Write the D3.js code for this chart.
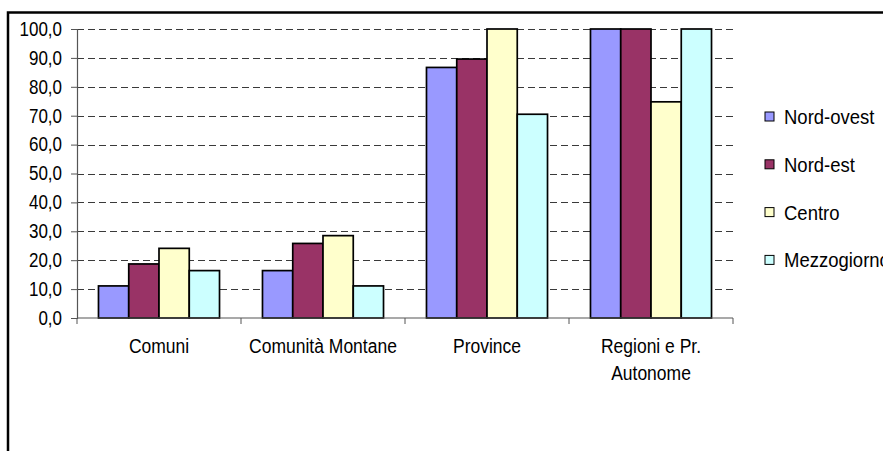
<!DOCTYPE html>
<html>
<head>
<meta charset="utf-8">
<script src="https://cdn.jsdelivr.net/npm/d3@7"></script>
<style>
  html, body { margin: 0; padding: 0; background: #fff; }
  svg { display: block; }
  text { font-family: Arial, "Liberation Sans", sans-serif; fill: #000; }
</style>
</head>
<body>
<svg id="chart" width="883" height="451"></svg>
<script>
// Categories of local administration and the share for each macro-area
const categories = ["Comuni", "Comunità Montane", "Province", "Regioni e Pr. Autonome"];
const categoryLines = [["Comuni"], ["Comunità Montane"], ["Province"], ["Regioni e Pr.", "Autonome"]];
const seriesNames = ["Nord-ovest", "Nord-est", "Centro", "Mezzogiorno"];
const nordOvest   = [11.1, 16.4, 86.7, 100.0];
const nordEst     = [18.7, 25.8, 89.6, 100.0];
const centro      = [24.1, 28.5, 100.0, 74.8];
const mezzogiorno = [16.4, 11.1, 70.5, 100.0];
const yTicks = [0, 10, 20, 30, 40, 50, 60, 70, 80, 90, 100];
const colors = ["#9999FF", "#993366", "#FFFFCC", "#CCFFFF"];

const seriesValues = [nordOvest, nordEst, centro, mezzogiorno];
const rows = categories.map((c, i) => ({
  category: c,
  values: seriesNames.map((s, j) => ({ series: s, value: seriesValues[j][i] }))
}));

const svg = d3.select("#chart");
const FS = 17, FS_CAT = 17.5, FS_LEG = 18.5, SY = 1.14;   // font sizes and vertical text stretch

// outer frame
svg.append("rect")
  .attr("x", 8).attr("y", 12.5).attr("width", 900).attr("height", 460)
  .attr("fill", "none").attr("stroke", "#000").attr("stroke-width", 2.5);

const plot = { left: 77, right: 733, top: 29, bottom: 318 };

const x0 = d3.scaleBand().domain(categories).range([plot.left, plot.right]).paddingInner(0).paddingOuter(0);
const x1 = d3.scaleBand().domain(seriesNames).range([0, x0.bandwidth()]).paddingInner(0).paddingOuter(0.71);
const y = d3.scaleLinear().domain([0, 100]).range([plot.bottom, plot.top]);
const color = d3.scaleOrdinal().domain(seriesNames).range(colors);
const fmt = v => d3.format(".1f")(v).replace(".", ",");

// dashed gridlines
svg.append("g")
  .selectAll("line")
  .data(yTicks.filter(t => t > 0))
  .join("line")
  .attr("x1", plot.left).attr("x2", plot.right)
  .attr("y1", d => Math.round(y(d)) + 0.5).attr("y2", d => Math.round(y(d)) + 0.5)
  .attr("stroke", "#3a3a3a").attr("stroke-width", 1)
  .attr("stroke-dasharray", "7,4");

// bars
const groups = svg.append("g")
  .selectAll("g")
  .data(rows)
  .join("g")
  .attr("transform", d => `translate(${x0(d.category)},0)`);

groups.selectAll("rect")
  .data(d => d.values)
  .join("rect")
  .attr("x", d => x1(d.series))
  .attr("y", d => y(d.value))
  .attr("width", x1.bandwidth())
  .attr("height", d => y(0) - y(d.value))
  .attr("fill", d => color(d.series))
  .attr("stroke", "#000").attr("stroke-width", 1.7);

// y axis
const yAxis = svg.append("g")
  .attr("transform", `translate(${plot.left},0)`)
  .call(d3.axisLeft(y).tickValues(yTicks).tickFormat(fmt).tickSize(6).tickPadding(9));
yAxis.select(".domain").attr("stroke", "#555").attr("stroke-width", 1.2);
yAxis.selectAll(".tick line").attr("stroke", "#555");
yAxis.selectAll(".tick text")
  .attr("font-size", FS).attr("dy", null).attr("dominant-baseline", "central")
  .attr("transform", function () { const t = d3.select(this); return `translate(${t.attr("x")},0) scale(1,${SY}) translate(${-t.attr("x")},0)`; });

// x axis with category boundary ticks
const xAxisG = svg.append("g").attr("transform", `translate(0,${plot.bottom})`);
xAxisG.append("line")
  .attr("x1", plot.left).attr("x2", plot.right)
  .attr("y1", 0).attr("y2", 0)
  .attr("stroke", "#555").attr("stroke-width", 1.2);
const bounds = categories.map(c => x0(c)).concat([x0(categories[categories.length - 1]) + x0.bandwidth()]);
xAxisG.selectAll("line.tk")
  .data(bounds)
  .join("line")
  .attr("class", "tk")
  .attr("x1", d => d).attr("x2", d => d)
  .attr("y1", 0).attr("y2", 6)
  .attr("stroke", "#555");

// category labels
const labelG = svg.append("g");
categories.forEach((c, i) => {
  const cx = x0(c) + x0.bandwidth() / 2;
  categoryLines[i].forEach((line, k) => {
    labelG.append("text")
      .attr("transform", `translate(${cx},${346 + k * 27}) scale(1,${SY})`)
      .attr("text-anchor", "middle")
      .attr("dominant-baseline", "central")
      .attr("font-size", FS_CAT)
      .text(line);
  });
});

// legend
const legend = svg.append("g")
  .selectAll("g")
  .data(seriesNames)
  .join("g")
  .attr("transform", (d, i) => `translate(765,${116.5 + i * 47.8})`);
legend.append("rect")
  .attr("x", 0).attr("y", -4.5).attr("width", 9).attr("height", 9)
  .attr("fill", d => color(d)).attr("stroke", "#000").attr("stroke-width", 1);
legend.append("text")
  .attr("transform", `translate(19,0) scale(1,${SY})`)
  .attr("dominant-baseline", "central")
  .attr("font-size", FS_LEG)
  .text(d => d);
</script>
</body>
</html>
